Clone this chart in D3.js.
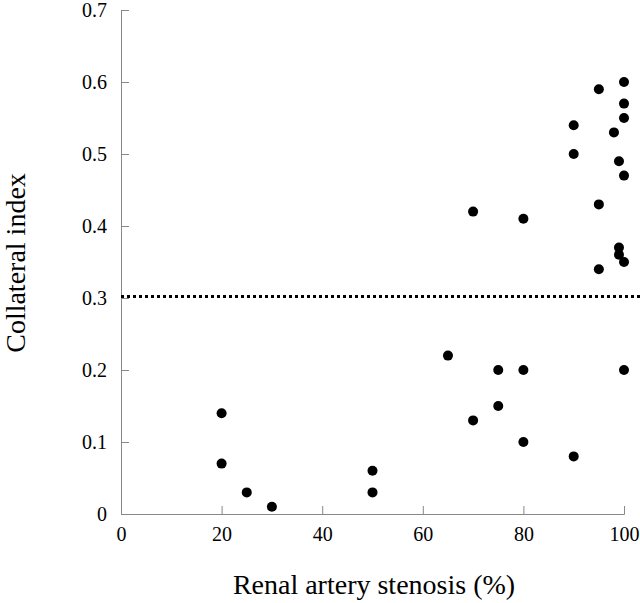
<!DOCTYPE html>
<html><head><meta charset="utf-8">
<script src="https://cdn.jsdelivr.net/npm/d3@7"></script>
<style>body{margin:0;background:#fff}</style>
</head><body>
<svg id="c" width="640" height="603"></svg>
<script>
const stenosis = [20,20,25,30,50,50,65,70,70,75,75,80,80,80,90,90,90,95,95,95,98,99,99,99,100,100,100,100,100,100];
const collateral = [0.14,0.07,0.03,0.01,0.06,0.03,0.22,0.42,0.13,0.20,0.15,0.41,0.20,0.10,0.54,0.50,0.08,0.59,0.43,0.34,0.53,0.49,0.37,0.36,0.60,0.57,0.55,0.47,0.35,0.20];
const xTicks = [0,20,40,60,80,100];
const yTicks = [0,0.1,0.2,0.3,0.4,0.5,0.6,0.7];
const threshold = 0.3;

const svg = d3.select("#c");
const x = d3.scaleLinear().domain([0,100]).range([121,624]);
const y = d3.scaleLinear().domain([0,0.7]).range([514,10]);
const font = "Liberation Serif";

const xa = svg.append("g").attr("transform","translate(0,514)")
  .call(d3.axisBottom(x).tickValues(xTicks).tickSize(-8).tickPadding(13).tickFormat(d3.format("d")));
const ya = svg.append("g").attr("transform","translate(121,0)")
  .call(d3.axisLeft(y).tickValues(yTicks).tickSize(-8).tickPadding(14).tickFormat(d => d===0 ? "0" : d3.format(".1f")(d)));
[xa,ya].forEach(g=>{
  g.attr("font-family",null);
  g.select(".domain").attr("stroke","#888").attr("stroke-width",1);
  g.selectAll(".tick line").attr("stroke","#888");
  g.selectAll("text").style("font-family",font).attr("font-size",20).attr("fill","#000");
});

svg.append("line")
  .attr("x1",x(0)).attr("x2",640)
  .attr("y1",y(threshold)-1.5).attr("y2",y(threshold)-1.5)
  .attr("stroke","#000").attr("stroke-width",3).attr("stroke-dasharray","3,3");

svg.append("g").selectAll("circle").data(stenosis.map((s,i)=>[s,collateral[i]]))
  .join("circle").attr("cx",d=>x(d[0])).attr("cy",d=>y(d[1])).attr("r",5).attr("fill","#000");

svg.append("text").attr("x",374).attr("y",594).attr("text-anchor","middle")
  .style("font-family",font).attr("font-size",28).text("Renal artery stenosis (%)");
svg.append("text").attr("transform","translate(25,263) rotate(-90)").attr("text-anchor","middle")
  .style("font-family",font).attr("font-size",28).text("Collateral index");
</script>
</body></html>
